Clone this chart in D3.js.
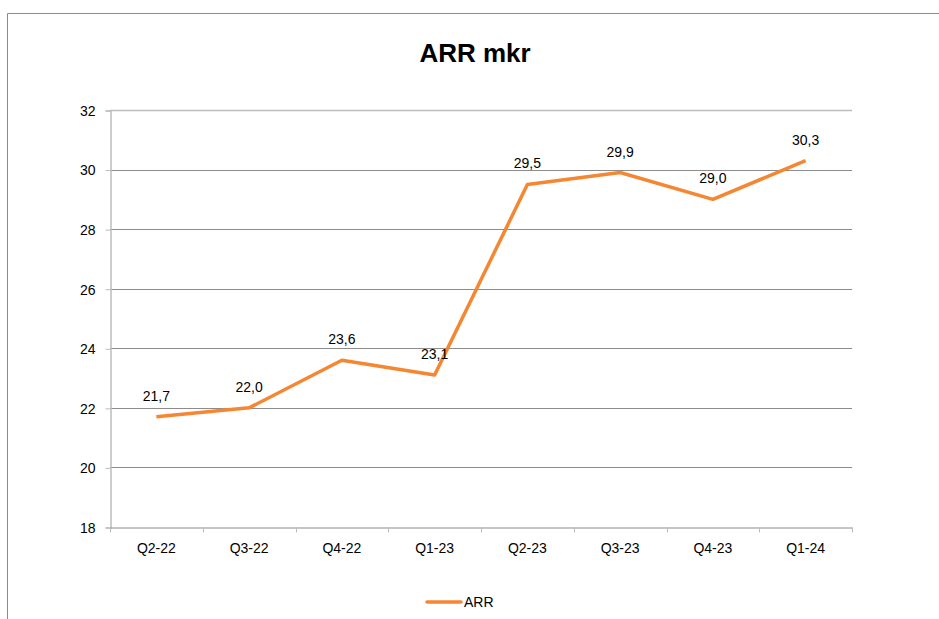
<!DOCTYPE html>
<meta charset="utf-8">
<head>
  <title>ARR mkr</title>
</head>
<style>
  body { margin: 0; background: #fff; }
  text { font-family: "Liberation Sans", Arial, sans-serif; fill: #000; }
</style>
<body>
  <svg width="939" height="619"></svg>

  <script src="https://cdnjs.cloudflare.com/ajax/libs/d3/7.8.5/d3.min.js"></script>
  <script>
    var categories = ['Q2-22', 'Q3-22', 'Q4-22', 'Q1-23', 'Q2-23', 'Q3-23', 'Q4-23', 'Q1-24'];
    var arr = [21.7, 22.0, 23.6, 23.1, 29.5, 29.9, 29.0, 30.3];
    var yTicks = [18, 20, 22, 24, 26, 28, 30, 32];

    var plotLeft = 110, plotRight = 852, plotTop = 110, plotBottom = 527;
    var orange = '#f58632';

    var svg = d3.select('svg');

    // outer chart border (only top and left visible)
    svg.append('path')
      .attr('d', 'M7.5,619V13.5H939')
      .attr('fill', 'none')
      .attr('stroke', '#8c8c8c')
      .attr('stroke-width', 1);

    svg.append('text')
      .attr('x', 475)
      .attr('y', 62)
      .attr('text-anchor', 'middle')
      .style('font-size', '26px')
      .style('font-weight', 'bold')
      .text('ARR mkr');

    var x = d3.scaleBand().domain(categories).range([plotLeft, plotRight]);
    var y = d3.scaleLinear().domain([18, 32]).range([plotBottom, plotTop]);

    // gridlines
    svg.append('g')
      .selectAll('line')
      .data(yTicks.slice(1))
      .enter()
      .append('line')
      .attr('x1', plotLeft)
      .attr('x2', plotRight)
      .attr('y1', function(d) { return Math.round(y(d)) + 0.5; })
      .attr('y2', function(d) { return Math.round(y(d)) + 0.5; })
      .attr('stroke', function(d) { return d === 32 ? '#bdbdbd' : '#8c8c8c'; })
      .attr('stroke-width', function(d) { return d === 32 ? 1.5 : 1; });

    // y axis
    var yAxis = svg.append('g')
      .attr('transform', 'translate(' + (plotLeft + 0.5) + ',0.5)')
      .call(d3.axisLeft(y).tickValues(yTicks).tickSize(5).tickPadding(10).tickFormat(d3.format('d')));
    yAxis.select('.domain').attr('stroke', '#bdbdbd').attr('stroke-width', 1.5);
    yAxis.selectAll('.tick line').attr('stroke', '#bdbdbd');
    yAxis.selectAll('.tick text').style('font-size', '14px').attr('dy', '0.35em');

    // x axis
    var xAxis = svg.append('g')
      .attr('transform', 'translate(0,' + (Math.round(plotBottom) + 0.5) + ')')
      .call(d3.axisBottom(x).tickSize(0).tickPadding(16));
    xAxis.select('.domain').attr('stroke', '#8c8c8c');
    xAxis.selectAll('.tick text').style('font-size', '14px');
    xAxis.append('g')
      .selectAll('line')
      .data(categories.concat(['end']))
      .enter()
      .append('line')
      .attr('x1', function(d, i) { return Math.round(plotLeft + i * x.step()) + 0.5; })
      .attr('x2', function(d, i) { return Math.round(plotLeft + i * x.step()) + 0.5; })
      .attr('y1', 0)
      .attr('y2', 5)
      .attr('stroke', '#bdbdbd');

    var cx = function(d, i) { return x(categories[i]) + x.bandwidth() / 2; };

    var line = d3.line()
      .x(cx)
      .y(function(d) { return y(d); });

    svg.append('path')
      .datum(arr)
      .attr('d', line)
      .attr('fill', 'none')
      .attr('stroke', orange)
      .attr('stroke-width', 3.5)
      .attr('stroke-linejoin', 'round');

    var fmt = function(v) { return d3.format('.1f')(v).replace('.', ','); };

    svg.append('g')
      .selectAll('text')
      .data(arr)
      .enter()
      .append('text')
      .attr('x', cx)
      .attr('y', function(d) { return y(d) - 16; })
      .attr('text-anchor', 'middle')
      .style('font-size', '14px')
      .text(fmt);

    // legend
    svg.append('line')
      .attr('x1', 427)
      .attr('x2', 461)
      .attr('y1', 602)
      .attr('y2', 602)
      .attr('stroke', orange)
      .attr('stroke-width', 3.5)
      .attr('stroke-linecap', 'round');
    svg.append('text')
      .attr('x', 464)
      .attr('y', 607)
      .style('font-size', '14px')
      .text('ARR');
  </script>
</body>
</html>
